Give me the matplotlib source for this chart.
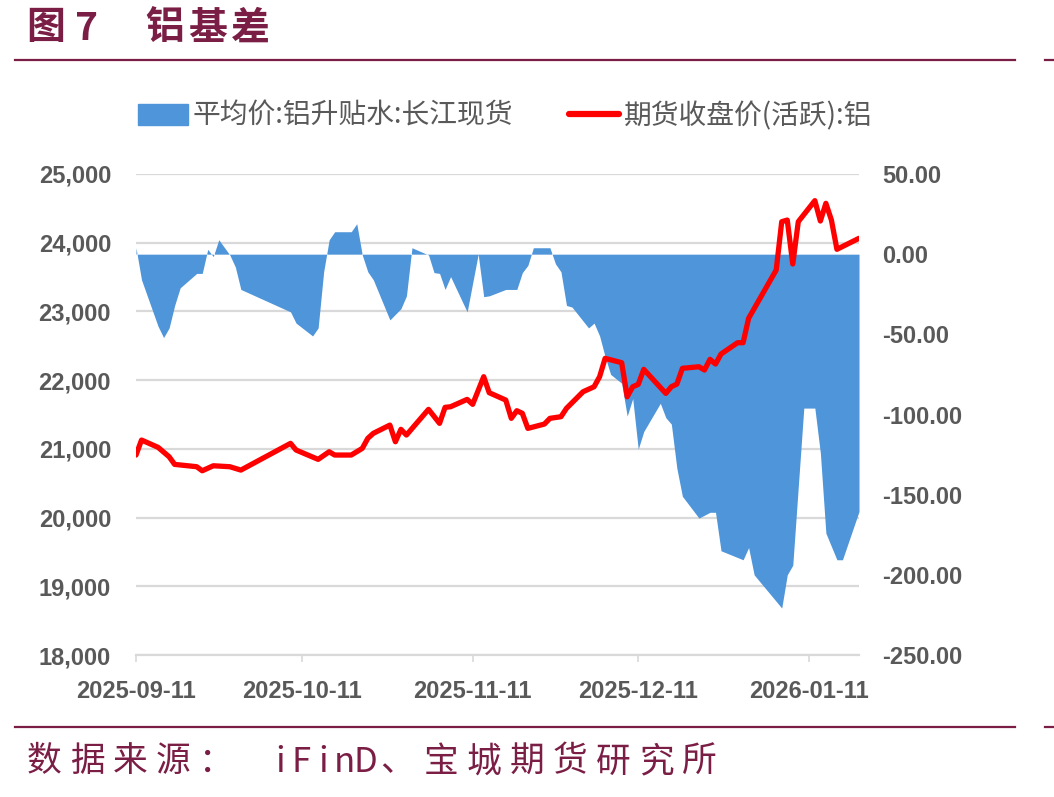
import matplotlib
matplotlib.use("Agg")
import matplotlib.pyplot as plt
import matplotlib.dates as mdates
from matplotlib.patches import Patch
from matplotlib.lines import Line2D
from matplotlib.font_manager import FontProperties
import pandas as pd

plt.rcParams['font.family'] = ['Noto Sans CJK SC', 'DejaVu Sans']

# 平均价:铝升贴水:长江现货 (元/吨, 右轴)
basis_dates = ['2025-09-11', '2025-09-12', '2025-09-15', '2025-09-16', '2025-09-17', '2025-09-18',
               '2025-09-19', '2025-09-22', '2025-09-23', '2025-09-24', '2025-09-25', '2025-09-26',
               '2025-09-28', '2025-09-29', '2025-09-30', '2025-10-09', '2025-10-10', '2025-10-13',
               '2025-10-14', '2025-10-15', '2025-10-16', '2025-10-17', '2025-10-20', '2025-10-21',
               '2025-10-22', '2025-10-23', '2025-10-24', '2025-10-27', '2025-10-29', '2025-10-30',
               '2025-10-31', '2025-11-03', '2025-11-04', '2025-11-05', '2025-11-06', '2025-11-07',
               '2025-11-10', '2025-11-12', '2025-11-13', '2025-11-14', '2025-11-17', '2025-11-19',
               '2025-11-20', '2025-11-21', '2025-11-22', '2025-11-25', '2025-11-26', '2025-11-27',
               '2025-11-28', '2025-11-29', '2025-12-02', '2025-12-03', '2025-12-04', '2025-12-05',
               '2025-12-06', '2025-12-08', '2025-12-09', '2025-12-10', '2025-12-11', '2025-12-12',
               '2025-12-15', '2025-12-16', '2025-12-17', '2025-12-18', '2025-12-19', '2025-12-22',
               '2025-12-24', '2025-12-25', '2025-12-26', '2025-12-30', '2025-12-31', '2026-01-01',
               '2026-01-06', '2026-01-07', '2026-01-08', '2026-01-10', '2026-01-12', '2026-01-13',
               '2026-01-14', '2026-01-16', '2026-01-17', '2026-01-20']
basis_values = [4, -16, -45, -52, -46, -32,
                -21, -12, -12, 3, -1.5, 9,
                -0.5, -8, -22, -36, -43, -51,
                -46, -11, 9, 14, 14, 19,
                -0.5, -11, -16, -41, -34, -26,
                4, -0.5, -11.5, -12, -22, -14,
                -36, 0, -26.5, -26, -22, -22,
                -11.5, -7, 4, 4, -6, -11,
                -32, -33, -46, -43, -51, -64,
                -75, -80.5, -101, -90, -121.6, -110.6,
                -93, -102, -106, -133.6, -151, -164.6,
                -161, -161, -185, -190.6, -183, -200,
                -220.7, -200, -194, -96, -96, -124,
                -174, -190.6, -190.6, -160.5]

# 期货收盘价(活跃):铝 (元/吨, 左轴)
close_dates = ['2025-09-11', '2025-09-12', '2025-09-15', '2025-09-17', '2025-09-18', '2025-09-22',
               '2025-09-23', '2025-09-25', '2025-09-28', '2025-09-30', '2025-10-09', '2025-10-10',
               '2025-10-14', '2025-10-16', '2025-10-17', '2025-10-20', '2025-10-22', '2025-10-23',
               '2025-10-24', '2025-10-27', '2025-10-28', '2025-10-29', '2025-10-30', '2025-11-03',
               '2025-11-05', '2025-11-06', '2025-11-07', '2025-11-10', '2025-11-11', '2025-11-13',
               '2025-11-14', '2025-11-17', '2025-11-18', '2025-11-19', '2025-11-20', '2025-11-21',
               '2025-11-24', '2025-11-25', '2025-11-27', '2025-11-28', '2025-12-01', '2025-12-03',
               '2025-12-04', '2025-12-05', '2025-12-08', '2025-12-09', '2025-12-10', '2025-12-11',
               '2025-12-12', '2025-12-16', '2025-12-17', '2025-12-18', '2025-12-19', '2025-12-22',
               '2025-12-23', '2025-12-24', '2025-12-25', '2025-12-26', '2025-12-29', '2025-12-30',
               '2025-12-31', '2026-01-05', '2026-01-06', '2026-01-07', '2026-01-08', '2026-01-09',
               '2026-01-12', '2026-01-13', '2026-01-14', '2026-01-15', '2026-01-16', '2026-01-20']
close_values = [20910, 21128, 21022, 20885, 20774, 20740,
                20681, 20754, 20740, 20691, 21080, 20983,
                20847, 20958, 20910, 20910, 21007, 21153,
                21226, 21346, 21103, 21284, 21201, 21575,
                21371, 21604, 21613, 21720, 21648, 22050,
                21817, 21710, 21444, 21555, 21517, 21298,
                21361, 21444, 21468, 21590, 21831, 21904,
                22050, 22317, 22254, 21758, 21904, 21938,
                22157, 21807, 21904, 21943, 22172, 22195,
                22147, 22303, 22234, 22380, 22545, 22545,
                22900, 23603, 24306, 24330, 23690, 24306,
                24612, 24316, 24573, 24330, 23904, 24064]

x_ticks = ['2025-09-11', '2025-10-11', '2025-11-11', '2025-12-11', '2026-01-11']
x_range = ['2025-09-11', '2026-01-20']
left_ticks = [18000, 19000, 20000, 21000, 22000, 23000, 24000, 25000]
right_ticks = [-250, -200, -150, -100, -50, 0, 50]

basis_label = '平均价:铝升贴水:长江现货'
close_label = '期货收盘价(活跃):铝'
title_parts = ['图', '7', '铝基差']
source_parts = ['数据来源：', 'iFinD、宝城期货研究所']

MAROON = '#7B1E45'
GRAY = '#595959'
GRID = '#D9D9D9'
BLUE = '#4F95D9'
RED = '#FF0000'

bd = pd.to_datetime(basis_dates)
cd = pd.to_datetime(close_dates)

fig = plt.figure(figsize=(10.54, 7.97), dpi=100)
W, H = 1054, 797
ax = fig.add_axes([136 / W, 1 - 655 / H, (859 - 136) / W, (655 - 174) / H])
ax2 = ax.twinx()   # blue area, right scale
ax3 = ax.twinx()   # red line, left scale (drawn on top)

num_font = FontProperties(family=['Liberation Sans Narrow', 'Liberation Sans'], weight='bold', size=17)

# left axis + grid
ax.set_ylim(18000, 25000)
ax.set_yticks(left_ticks)
ax.set_yticklabels([f'{v:,}' for v in left_ticks])
ax.grid(axis='y', color=GRID, linewidth=1.6)
ax.set_axisbelow(True)
ax.tick_params(axis='y', length=0, pad=18, colors=GRAY)

# right axis
ax2.fill_between(bd, 0, basis_values, color=BLUE, linewidth=0)
ax2.set_ylim(-250, 50)
ax2.set_yticks(right_ticks)
ax2.set_yticklabels([f'{v:.2f}' for v in right_ticks])
ax2.tick_params(axis='y', length=0, pad=17, colors=GRAY)

# red line
ax3.plot(cd, close_values, color=RED, linewidth=3.8, solid_joinstyle='round', solid_capstyle='round')
ax3.set_ylim(18000, 25000)
ax3.set_yticks([])

ax.set_xlim(pd.Timestamp(x_range[0]), pd.Timestamp(x_range[1]))
ax.set_xticks(pd.to_datetime(x_ticks))
ax.xaxis.set_major_formatter(mdates.DateFormatter('%Y-%m-%d'))
ax.tick_params(axis='x', length=5, width=1.2, color=GRID, pad=13, colors=GRAY)
ax.tick_params(axis='x', color=GRID)

for a in (ax, ax2, ax3):
    for s in a.spines.values():
        s.set_visible(False)
ax.spines['bottom'].set_visible(True)
ax.spines['bottom'].set_color(GRID)
ax.spines['bottom'].set_linewidth(1.6)

for lab in ax.get_yticklabels() + ax2.get_yticklabels() + ax.get_xticklabels():
    lab.set_fontproperties(num_font)
    lab.set_color(GRAY)

# legend
handles = [Patch(facecolor=BLUE, edgecolor=BLUE),
           Line2D([], [], color=RED, linewidth=4.5, solid_capstyle='round')]
fig.legend(handles, [basis_label, close_label], loc='center left',
           bbox_to_anchor=(138 / W, 1 - 116 / H), ncol=2, frameon=False,
           fontsize=20, labelcolor=GRAY, handlelength=1.8, handleheight=0.8,
           handletextpad=0.18, columnspacing=2.0, borderpad=0, borderaxespad=0)


def spaced_text(s, x0, y, full, size, weight='normal'):
    # monospaced CJK-style layout: full-width cells for CJK, half cells for ASCII
    x = x0
    for ch in s:
        w = full / 2 if ord(ch) < 128 else full
        fig.text((x + w / 2) / W, 1 - y / H, ch, color=MAROON, fontsize=size,
                 fontweight=weight, ha='center', va='center')
        x += w


# title, rules and source note
spaced_text(title_parts[0], 25, 28, 42, 28, 'bold')
spaced_text(title_parts[1], 76, 28, 42, 28, 'bold')
spaced_text(title_parts[2], 143, 28, 43, 28, 'bold')
for yy in (60, 727):
    fig.add_artist(Line2D([15 / W, 1015 / W], [1 - yy / H] * 2, color=MAROON, linewidth=1.6))
    fig.add_artist(Line2D([1045 / W, 1054 / W], [1 - yy / H] * 2, color=MAROON, linewidth=1.6))
spaced_text(source_parts[0], 23, 762, 43, 25)
spaced_text(source_parts[1], 269, 762, 43, 25)

fig.savefig('out.png', dpi=100)
